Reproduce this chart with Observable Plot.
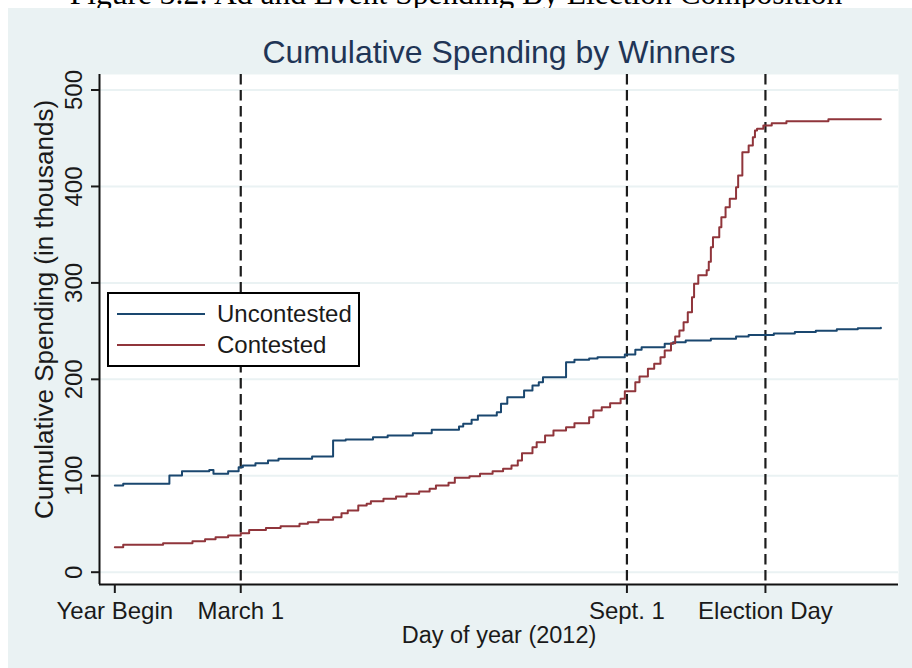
<!DOCTYPE html>
<html><head><meta charset="utf-8">
<script src="https://cdn.jsdelivr.net/npm/d3@7"></script>
<script src="https://cdn.jsdelivr.net/npm/@observablehq/plot@0.6"></script>
<style>
html,body{margin:0;padding:0;background:#fff;}
#wrap{position:relative;width:912px;height:668px;overflow:hidden;font-family:"Liberation Sans",Arial,sans-serif;}
#caption{position:absolute;left:0;width:912px;top:-21px;text-align:center;font-family:"Liberation Serif",serif;font-size:31.5px;line-height:30px;color:#000;white-space:nowrap;}
#bg{position:absolute;left:8px;top:8px;width:904px;height:660px;background:#eaf2f3;}
#title{position:absolute;left:86px;width:826px;top:37px;text-align:center;font-size:32px;line-height:30px;color:#1f3556;white-space:nowrap;}
#chart{position:absolute;left:0;top:0;}
#legend{position:absolute;left:107px;top:292px;width:249px;height:71px;border:2px solid #000;background:#fff;}
.sw{position:absolute;left:8px;width:88px;height:2px;}
.lt{position:absolute;left:108px;font-size:24px;line-height:24px;color:#1a1a1a;white-space:nowrap;}
</style>
</head><body>
<div id="wrap">
  <div id="caption">Figure 3.2: Ad and Event Spending By Election Composition</div>
  <div id="bg"></div>
  <div id="chart"></div>
  <div id="title">Cumulative Spending by Winners</div>
  <div id="legend"></div>
</div>
<script>
// ---- data (day of year 2012, cumulative spending in thousands) ----
const seriesNames = ["Uncontested", "Contested"];
const seriesColors = ["#1a476f", "#90353b"];

const uncontestedDays = [1, 5, 27, 33, 46, 48, 55, 60, 62, 68, 74, 79, 95, 105, 111, 124, 131, 143, 152, 165, 167, 171, 174, 183, 185, 188, 196, 200, 203, 205, 216, 220, 227, 231, 244, 249, 252, 263, 267, 273, 285, 297, 303, 315, 325, 335, 345, 355, 366];
const uncontestedValues = [90, 91.7, 100.3, 104.7, 106, 102, 104.7, 108.9, 110.6, 113, 115.8, 117.6, 120, 136.6, 137.6, 140, 141.7, 144.1, 147.7, 151.1, 153.9, 158, 162.5, 165.9, 174.6, 181.5, 188.4, 193.6, 197, 202.2, 217.8, 220.2, 221.5, 223, 225.7, 230.6, 233.3, 236.8, 238.5, 240.2, 242, 244.5, 246, 247.5, 249, 250.5, 252, 253, 253.5];

const contestedDays = [1, 5, 24, 38, 44, 49, 55, 61, 65, 73, 80, 89, 93, 98, 105, 109, 112, 117, 121, 123, 129, 135, 140, 146, 151, 154, 160, 163, 170, 175, 181, 186, 190, 193, 195, 200, 202, 206, 210, 216, 220, 227, 229, 233, 237, 242, 244, 249, 251, 255, 258, 261, 263, 266, 268, 270, 272, 274, 276, 277, 279, 283, 284, 285, 286, 289, 290, 292, 294, 297, 298, 300, 303, 305, 306, 307, 310, 314, 321, 341, 366];
const contestedValues = [25.9, 28.4, 30.1, 32.1, 34.2, 36.3, 38.1, 40.4, 43.7, 45.8, 47.7, 50.2, 51.8, 54.3, 57, 61.2, 64, 69.2, 70.9, 73.6, 76.1, 78.5, 81.3, 83.7, 86.5, 89.9, 92.7, 97.9, 99.5, 102, 104.7, 107.2, 110.6, 115.8, 123.4, 129.6, 134.8, 141.7, 146.9, 150.4, 154.5, 160.7, 167.7, 171, 175.2, 179.8, 187.7, 197, 202.9, 210.9, 216.1, 223, 229.9, 237.5, 244.4, 250.6, 259.2, 269.6, 285, 299, 308, 313, 322, 337, 347.4, 357.7, 368.1, 378.5, 387.2, 399.2, 411.3, 435.5, 442.4, 451.1, 458, 459.8, 463.2, 465.6, 467.6, 469.7, 469.7];

const xTickDays = [1, 61, 245, 311];
const xTickLabels = ["Year Begin", "March 1", "Sept. 1", "Election Day"];
const eventDays = [61, 245, 311];
const yTicks = [0, 100, 200, 300, 400, 500];

const titleText = "Cumulative Spending by Winners";
const xTitle = "Day of year (2012)";
const yTitle = "Cumulative Spending (in thousands)";

// ---- build tables ----
const uncontested = uncontestedDays.map((d, i) => ({day: d, value: uncontestedValues[i]}));
const contested = contestedDays.map((d, i) => ({day: d, value: contestedValues[i]}));

const xDomain = [-6.3, 374.4];
const yDomain = [-12.75, 516.1];
const font = "Liberation Sans, Arial, sans-serif";

const chart = Plot.plot({
  width: 912,
  height: 668,
  marginLeft: 99,
  marginRight: 14,
  marginTop: 74,
  marginBottom: 84,
  x: {domain: xDomain},
  y: {domain: yDomain},
  style: {background: "transparent", fontFamily: font, color: "#1a1a1a", overflow: "visible"},
  marks: [
    Plot.frame({fill: "white", stroke: null}),
    Plot.gridY(yTicks, {stroke: "#eaf2f3", strokeOpacity: 1, strokeWidth: 2}),
    Plot.ruleX(eventDays, {stroke: "#1c1c1c", strokeWidth: 2.2, strokeDasharray: "10.5,5.5"}),
    Plot.line(uncontested, {x: "day", y: "value", curve: "step-after", stroke: seriesColors[0], strokeWidth: 2}),
    Plot.line(contested, {x: "day", y: "value", curve: "step-after", stroke: seriesColors[1], strokeWidth: 2}),
    Plot.ruleY([yDomain[0]], {stroke: "#111", strokeWidth: 2}),
    Plot.ruleX([xDomain[0]], {stroke: "#111", strokeWidth: 2}),
    Plot.axisX({ticks: xTickDays, tickFormat: d => xTickLabels[xTickDays.indexOf(d)], tickSize: 9, tickPadding: 8, fontSize: 24, strokeWidth: 2, label: null, anchor: "bottom"}),
    Plot.axisY({ticks: yTicks, tickSize: 8, tickPadding: 10, tickRotate: -90, textAnchor: "middle", lineAnchor: "bottom", fontSize: 24, strokeWidth: 2, label: null, anchor: "left"}),
    Plot.text([xTitle], {frameAnchor: "bottom", dy: 51, fontSize: 23.5, lineAnchor: "middle"}),
    Plot.text([yTitle], {frameAnchor: "left", rotate: -90, dx: -55, dy: -20, fontSize: 26, textAnchor: "middle", lineAnchor: "middle"})
  ]
});
document.getElementById("chart").appendChild(chart);
document.getElementById("title").textContent = titleText;

const legend = document.getElementById("legend");
seriesNames.forEach((name, i) => {
  const sw = document.createElement("div");
  sw.className = "sw";
  sw.style.top = (i === 0 ? 19 : 50) + "px";
  sw.style.background = seriesColors[i];
  legend.appendChild(sw);
  const t = document.createElement("div");
  t.className = "lt";
  t.style.top = (i === 0 ? 8 : 39) + "px";
  t.textContent = name;
  legend.appendChild(t);
});
</script>
</body></html>
